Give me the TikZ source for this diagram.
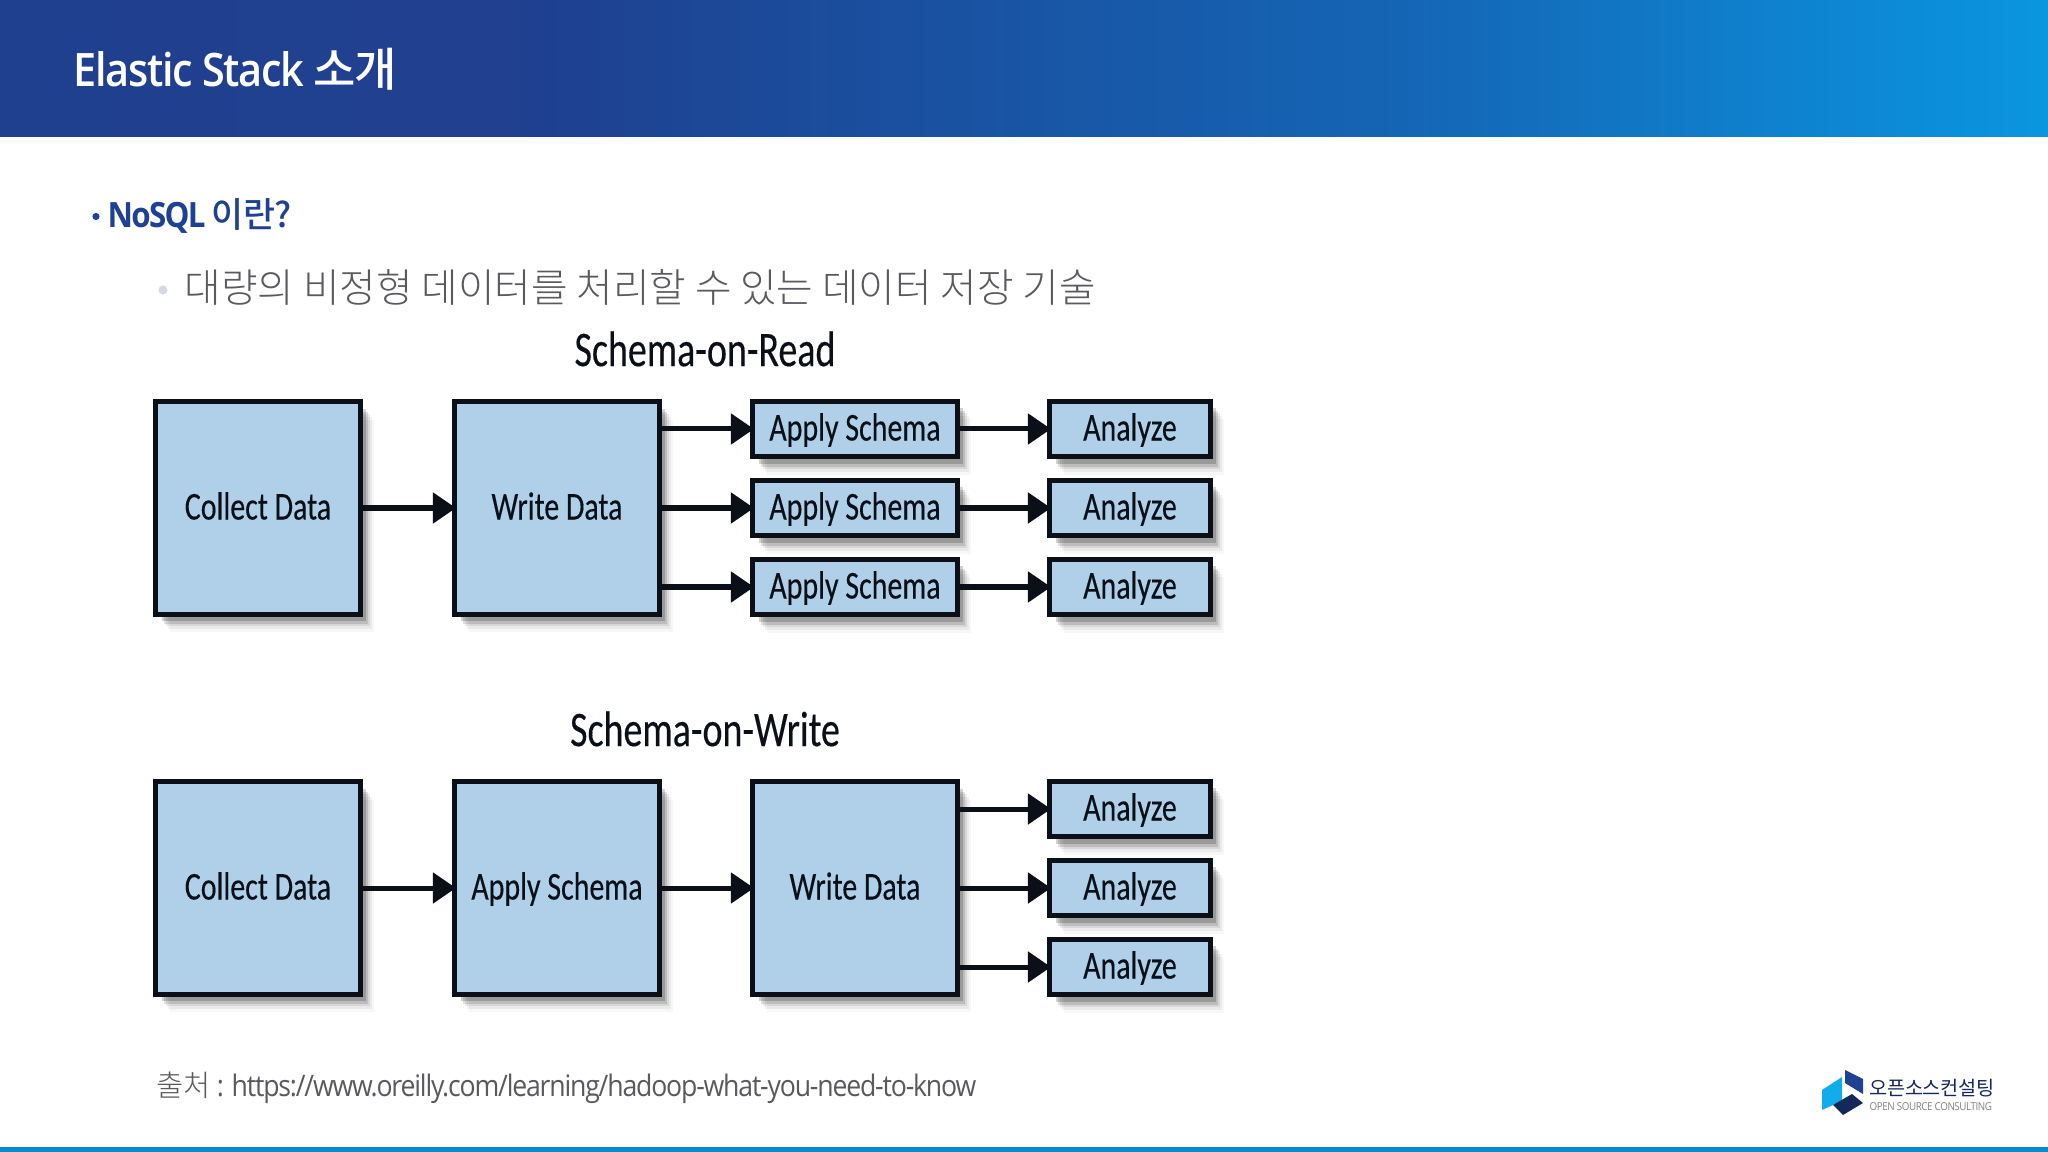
\documentclass[tikz,border=0pt]{standalone}
\usepackage{fontspec}
\usetikzlibrary{arrows.meta,calc}
\setmainfont{Open Sans}
\newfontfamily\krfont{Noto Sans CJK KR}[LetterSpace=-2]
\newfontfamily\krlight{Noto Sans CJK KR Light}
\newfontfamily\krmed{Noto Sans CJK KR Medium}[LetterSpace=-2]
\newfontfamily\cond{Carlito}[FakeStretch=0.76,FakeBold=0.25]
\newfontfamily\condt{Open Sans}[FakeStretch=0.9,LetterSpace=-4]
\newfontfamily\condb{Open Sans Semibold}[FakeStretch=0.9,LetterSpace=-3]
\newfontfamily\condh{Open Sans Bold}[FakeStretch=0.9,LetterSpace=-5]
\definecolor{hdL}{HTML}{1F3F8F}
\definecolor{hdM}{HTML}{1565B5}
\definecolor{hdR}{HTML}{0A96E0}
\definecolor{boxfill}{HTML}{AFD0E8}
\definecolor{ink}{HTML}{0A0F18}
\definecolor{headblue}{HTML}{1F4192}
\definecolor{greytxt}{HTML}{5A5A5E}
\definecolor{dot}{HTML}{D3D8E2}
\definecolor{lgA}{HTML}{12ACEB}
\definecolor{lgB}{HTML}{1F4192}
\definecolor{lgC}{HTML}{14285A}
\tikzset{
  px/.style={x=0.01cm,y=-0.01cm},
  bx/.style={draw=ink,line width=0.05cm,fill=boxfill,inner sep=0,outer sep=0,text=ink,
    text height=0.23cm,text depth=0cm,
    font=\cond\fontsize{11.2pt}{11.2pt}\selectfont,
    preaction={draw=none,fill=black,fill opacity=.03,transform canvas={shift={(0.14cm,-0.18cm)}}},
    preaction={draw=none,fill=black,fill opacity=.05,transform canvas={shift={(0.12cm,-0.15cm)}}},
    preaction={draw=none,fill=black,fill opacity=.08,transform canvas={shift={(0.10cm,-0.12cm)}}},
    preaction={draw=none,fill=black,fill opacity=.12,transform canvas={shift={(0.08cm,-0.10cm)}}},
    preaction={draw=none,fill=black,fill opacity=.18,transform canvas={shift={(0.06cm,-0.07cm)}}}},
  big/.style={bx,minimum width=2.04cm,minimum height=2.12cm},
  appl/.style={bx,minimum width=2.04cm,minimum height=0.55cm},
  ana/.style={bx,minimum width=1.60cm,minimum height=0.55cm},
  arr/.style={draw=ink,line width=0.05cm,-{Triangle[length=0.23cm,width=0.3cm]},shorten >=-0.01cm},
  ttl/.style={inner sep=0,text=ink,font=\cond\fontsize{14.2pt}{14.2pt}\selectfont}
}
\begin{document}
\begin{tikzpicture}[px]
\useasboundingbox (0,0) rectangle (2048,1152);
\fill[white] (0,0) rectangle (2048,1152);
% header band
\path[left color=hdL,right color=hdL!99] (0,0) rectangle (520,137);
\path[left color=hdL,right color=hdM] (520,0) rectangle (1400,137);
\path[left color=hdM,right color=hdR] (1400,0) rectangle (2048,137);
\fill[hdR!92!black] (0,1147) rectangle (2048,1152);
\node[anchor=base west,inner sep=0,text=white,font=\condb\fontsize{13.1pt}{13.1pt}\selectfont] (title) at (73,87) {Elastic Stack {\krmed 소개}};
\node[anchor=base west,inner sep=0,text=headblue,font=\condh\fontsize{9.9pt}{9.9pt}\selectfont] (h1) at (107,228) {NoSQL {\krmed 이란?}};
\fill[headblue] (96,216.5) circle (3.6);
\fill[dot] (163,290) circle (4.5);
\node[anchor=base west,inner sep=0,text=greytxt,font=\krlight\fontsize{11.3pt}{11.3pt}\selectfont] (h2) at (184,303) {대량의 비정형 데이터를 처리할 수 있는 데이터 저장 기술};
% top diagram
\node[ttl] (t1) at (705,349) {Schema-on-Read};
\node[big] (c1) at (258,508) {Collect Data};
\node[big] (w1) at (557,508) {Write Data};
\node[appl] (a1) at (855,429) {Apply Schema};
\node[appl] (a2) at (855,508) {Apply Schema};
\node[appl] (a3) at (855,587) {Apply Schema};
\node[ana] (z1) at (1130,429) {Analyze};
\node[ana] (z2) at (1130,508) {Analyze};
\node[ana] (z3) at (1130,587) {Analyze};
\draw[arr] (c1) -- (w1);
\draw[arr] (w1.east |- a1) -- (a1);
\draw[arr] (w1) -- (a2);
\draw[arr] (w1.east |- a3) -- (a3);
\draw[arr] (a1) -- (z1);
\draw[arr] (a2) -- (z2);
\draw[arr] (a3) -- (z3);
% bottom diagram
\node[ttl] (t2) at (705,729) {Schema-on-Write};
\node[big] (c2) at (258,888) {Collect Data};
\node[big] (p2) at (557,888) {Apply Schema};
\node[big] (w2) at (855,888) {Write Data};
\node[ana] (y1) at (1130,809) {Analyze};
\node[ana] (y2) at (1130,888) {Analyze};
\node[ana] (y3) at (1130,967) {Analyze};
\draw[arr] (c2) -- (p2);
\draw[arr] (p2) -- (w2);
\draw[arr] (w2.east |- y1) -- (y1);
\draw[arr] (w2) -- (y2);
\draw[arr] (w2.east |- y3) -- (y3);
% source
\node[anchor=base west,inner sep=0,text=greytxt,font=\condt\fontsize{8.42pt}{8.42pt}\selectfont] (src) at (156,1096) {{\krlight 출처} : https://www.oreilly.com/learning/hadoop-what-you-need-to-know};
% logo
\fill[lgA] (1822,1090) -- (1842,1077) -- (1842,1101) -- (1822,1110) -- cycle;
\fill[lgB] (1845,1070) -- (1863,1079) -- (1863,1094) -- (1845,1083) -- cycle;
\fill[lgC] (1833,1105) -- (1852,1094) -- (1863,1103) -- (1843,1115) -- cycle;
\node[anchor=base west,inner sep=0,text=lgC,font=\krfont\fontsize{5.6pt}{5.6pt}\selectfont] (lg1) at (1869,1095) {오픈소스컨설팅};
\node[anchor=base west,inner sep=0,text=gray,font=\condt\fontsize{3.1pt}{3.1pt}\selectfont] (lg2) at (1869,1110) {OPEN SOURCE CONSULTING};
\end{tikzpicture}
\end{document}
